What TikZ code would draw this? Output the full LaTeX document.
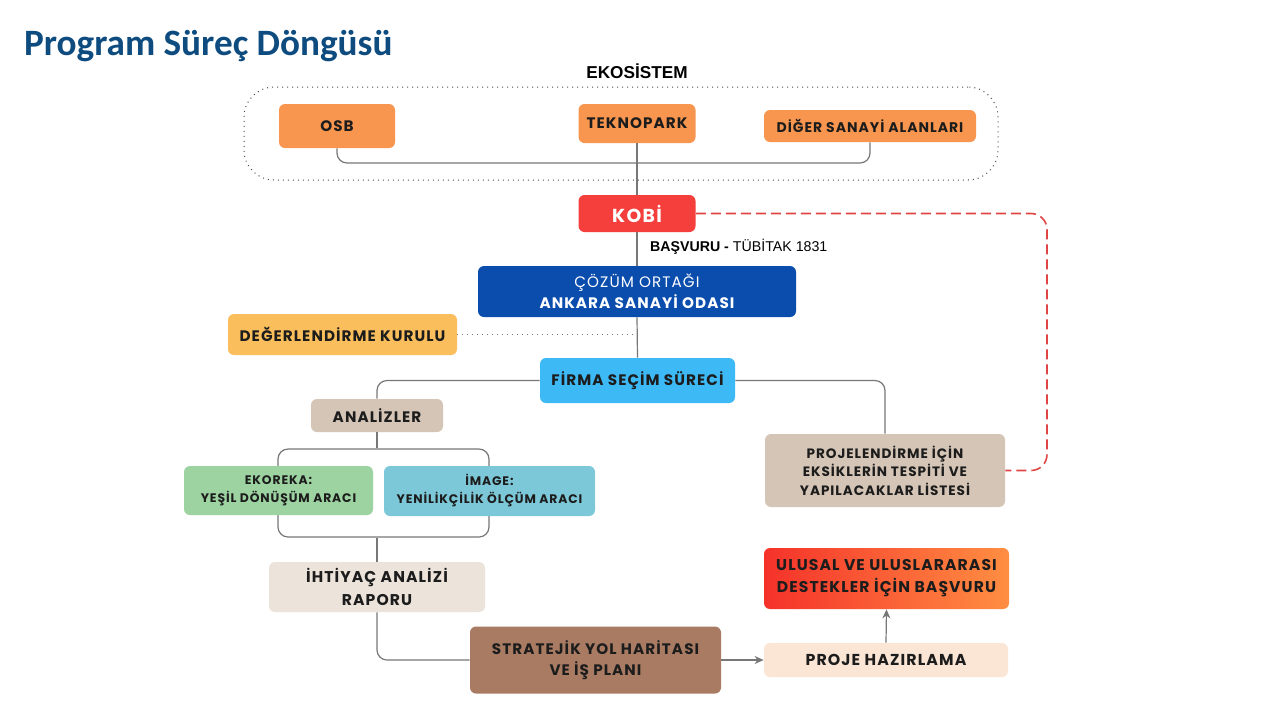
\documentclass[tikz,border=0pt]{standalone}
\usepackage{fontspec}
\setmainfont{Poppins}[LetterSpace=7]
\newfontfamily\titlefont{Carlito}
\newfontfamily\arialfont{Liberation Sans}
\usetikzlibrary{arrows.meta,positioning}
\definecolor{titleblue}{HTML}{0E4C80}
\definecolor{ecoorange}{HTML}{F8964F}
\definecolor{kobired}{HTML}{F43F3C}
\definecolor{partnerblue}{HTML}{0A4DAD}
\definecolor{boardyellow}{HTML}{FBBE5C}
\definecolor{firmblue}{HTML}{3DB9F6}
\definecolor{tan}{HTML}{D5C5B6}
\definecolor{ekogreen}{HTML}{9DD3A1}
\definecolor{imgteal}{HTML}{7DC8D8}
\definecolor{reportbeige}{HTML}{ECE3DA}
\definecolor{roadbrown}{HTML}{A97B63}
\definecolor{prepeach}{HTML}{FBE6D5}
\definecolor{supred}{HTML}{F5322A}
\definecolor{suporange}{HTML}{FF8E42}
\definecolor{linegray}{HTML}{777777}
\definecolor{dashred}{HTML}{E04545}
\definecolor{ink}{HTML}{1C1C1C}

\tikzset{
  box/.style={rounded corners=3pt,align=center,inner sep=0pt,text=ink,
    font=\bfseries\fontsize{7.6}{10.5}\selectfont},
  smallbox/.style={box,font=\bfseries\fontsize{6.2}{9}\selectfont},
  listbox/.style={box,font=\bfseries\fontsize{6.8}{9.2}\selectfont},
  link/.style={draw=linegray,line width=0.6pt,rounded corners=5pt},
  arrowlink/.style={link,-{Stealth[length=4.5pt,width=4pt]}},
  redlink/.style={draw=dashred,line width=0.8pt,dash pattern=on 5pt off 2.5pt,rounded corners=8pt},
}

\begin{document}
\begin{tikzpicture}[x=0.5pt,y=-0.5pt]
  \useasboundingbox[fill=white] (0,0) rectangle (1280,720);

  \node[anchor=west,font=\titlefont\bfseries\fontsize{18.6}{22}\selectfont,text=titleblue] (title) at (17,46) {Program Süreç Döngüsü};

  % ecosystem
  \node[font=\arialfont\bfseries\fontsize{8.6}{9}\selectfont] (ekolabel) at (637,71) {EKOSİSTEM};
  \node[draw=black!70,dotted,line width=0.5pt,rounded corners=15pt,minimum width=377pt,minimum height=46.5pt] (eko) at (621,133.5) {};
  \node[box,fill=ecoorange,minimum width=58pt,minimum height=22pt] (osb) at (337,126) {OSB};
  \node[box,fill=ecoorange,minimum width=58.5pt,minimum height=19.5pt] (tekno) at (637,123.5) {TEKNOPARK};
  \node[box,fill=ecoorange,minimum width=106pt,minimum height=16pt,font=\bfseries\fontsize{7}{8}\selectfont] (diger) at (870,126) {DİĞER SANAYİ ALANLARI};
  \coordinate (ecobus) at (637,163);
  \draw[link] (osb.south) |- (ecobus) -| (diger.south);

  % kobi and partner
  \node[box,fill=kobired,text=white,minimum width=58.5pt,minimum height=18.5pt,font=\bfseries\fontsize{9.4}{10}\selectfont] (kobi) at (637,213.5) {KOBİ};
  \draw[link] (tekno.south) -- (kobi.north);
  \node[anchor=west,font=\arialfont\fontsize{7.1}{8}\selectfont] (basvuru) at (643,247) {\textbf{BAŞVURU -} TÜBİTAK 1831};
  \node[box,fill=partnerblue,text=white,minimum width=159pt,minimum height=25.5pt] (cozum) at (637,291.5)
    {\mdseries ÇÖZÜM ORTAĞI\\ANKARA SANAYİ ODASI};
  \draw[link] (kobi.south) -- (cozum.north);

  \node[box,fill=boardyellow,minimum width=114.5pt,minimum height=20.5pt] (kurul) at (342.5,334.5) {DEĞERLENDİRME KURULU};
  \node[box,fill=firmblue,minimum width=97.5pt,minimum height=22.5pt] (firma) at (637.5,380.5) {FİRMA SEÇİM SÜRECİ};
  \draw[link] (cozum.south) -- (firma.north);
  \draw[draw=linegray,line width=0.5pt,dotted] (kurul.east) -- (kurul.east -| firma.north);

  % analyses
  \node[box,fill=tan,minimum width=66pt,minimum height=16.5pt] (analiz) at (377,415.5) {ANALİZLER};
  \draw[link] (firma.west) -| (analiz.north);
  \node[draw=linegray,line width=0.6pt,rounded corners=5pt,minimum width=105.5pt,minimum height=44pt] (araclar) at (383.5,493) {};
  \draw[link] (analiz.south) -- (analiz.south |- araclar.north);
  \node[smallbox,fill=ekogreen,minimum width=94.5pt,minimum height=24.5pt] (ekoreka) at (278.5,490.5) {EKOREKA:\\YEŞİL DÖNÜŞÜM ARACI};
  \node[smallbox,fill=imgteal,minimum width=105.5pt,minimum height=25pt] (image) at (489.5,491) {İMAGE:\\YENİLİKÇİLİK ÖLÇÜM ARACI};

  \node[box,fill=reportbeige,minimum width=108pt,minimum height=25pt,font=\bfseries\fontsize{7.8}{11.5}\selectfont] (rapor) at (377,587) {İHTİYAÇ ANALİZİ\\RAPORU};
  \draw[link] (rapor.north |- araclar.south) -- (rapor.north);

  \node[box,fill=roadbrown,minimum width=125.5pt,minimum height=33.5pt] (yol) at (595.5,660) {STRATEJİK YOL HARİTASI\\VE İŞ PLANI};
  \draw[link] (rapor.south) |- (yol.west);

  % right branch
  \node[listbox,fill=tan,minimum width=120pt,minimum height=36.5pt] (eksik) at (885,470.5) {PROJELENDİRME İÇİN\\EKSİKLERİN TESPİTİ VE\\YAPILACAKLAR LİSTESİ};
  \draw[link] (firma.east) -| (eksik.north);
  \coordinate (redturn) at (1047,300);
  \draw[redlink] (kobi.east) -| (redturn) |- (eksik.east);

  \node[box,fill=prepeach,minimum width=122pt,minimum height=17pt,font=\bfseries\fontsize{7.9}{9}\selectfont] (proje) at (886,660) {PROJE HAZIRLAMA};
  \node[box,left color=supred,right color=suporange,minimum width=122.5pt,minimum height=30.5pt,font=\bfseries\fontsize{7.8}{11}\selectfont] (destek) at (886.5,578.5) {ULUSAL VE ULUSLARARASI\\DESTEKLER İÇİN BAŞVURU};
  \draw[arrowlink] (yol.east) -- (proje.west);
  \draw[arrowlink] (proje.north) -- (destek.south);
\end{tikzpicture}
\end{document}
